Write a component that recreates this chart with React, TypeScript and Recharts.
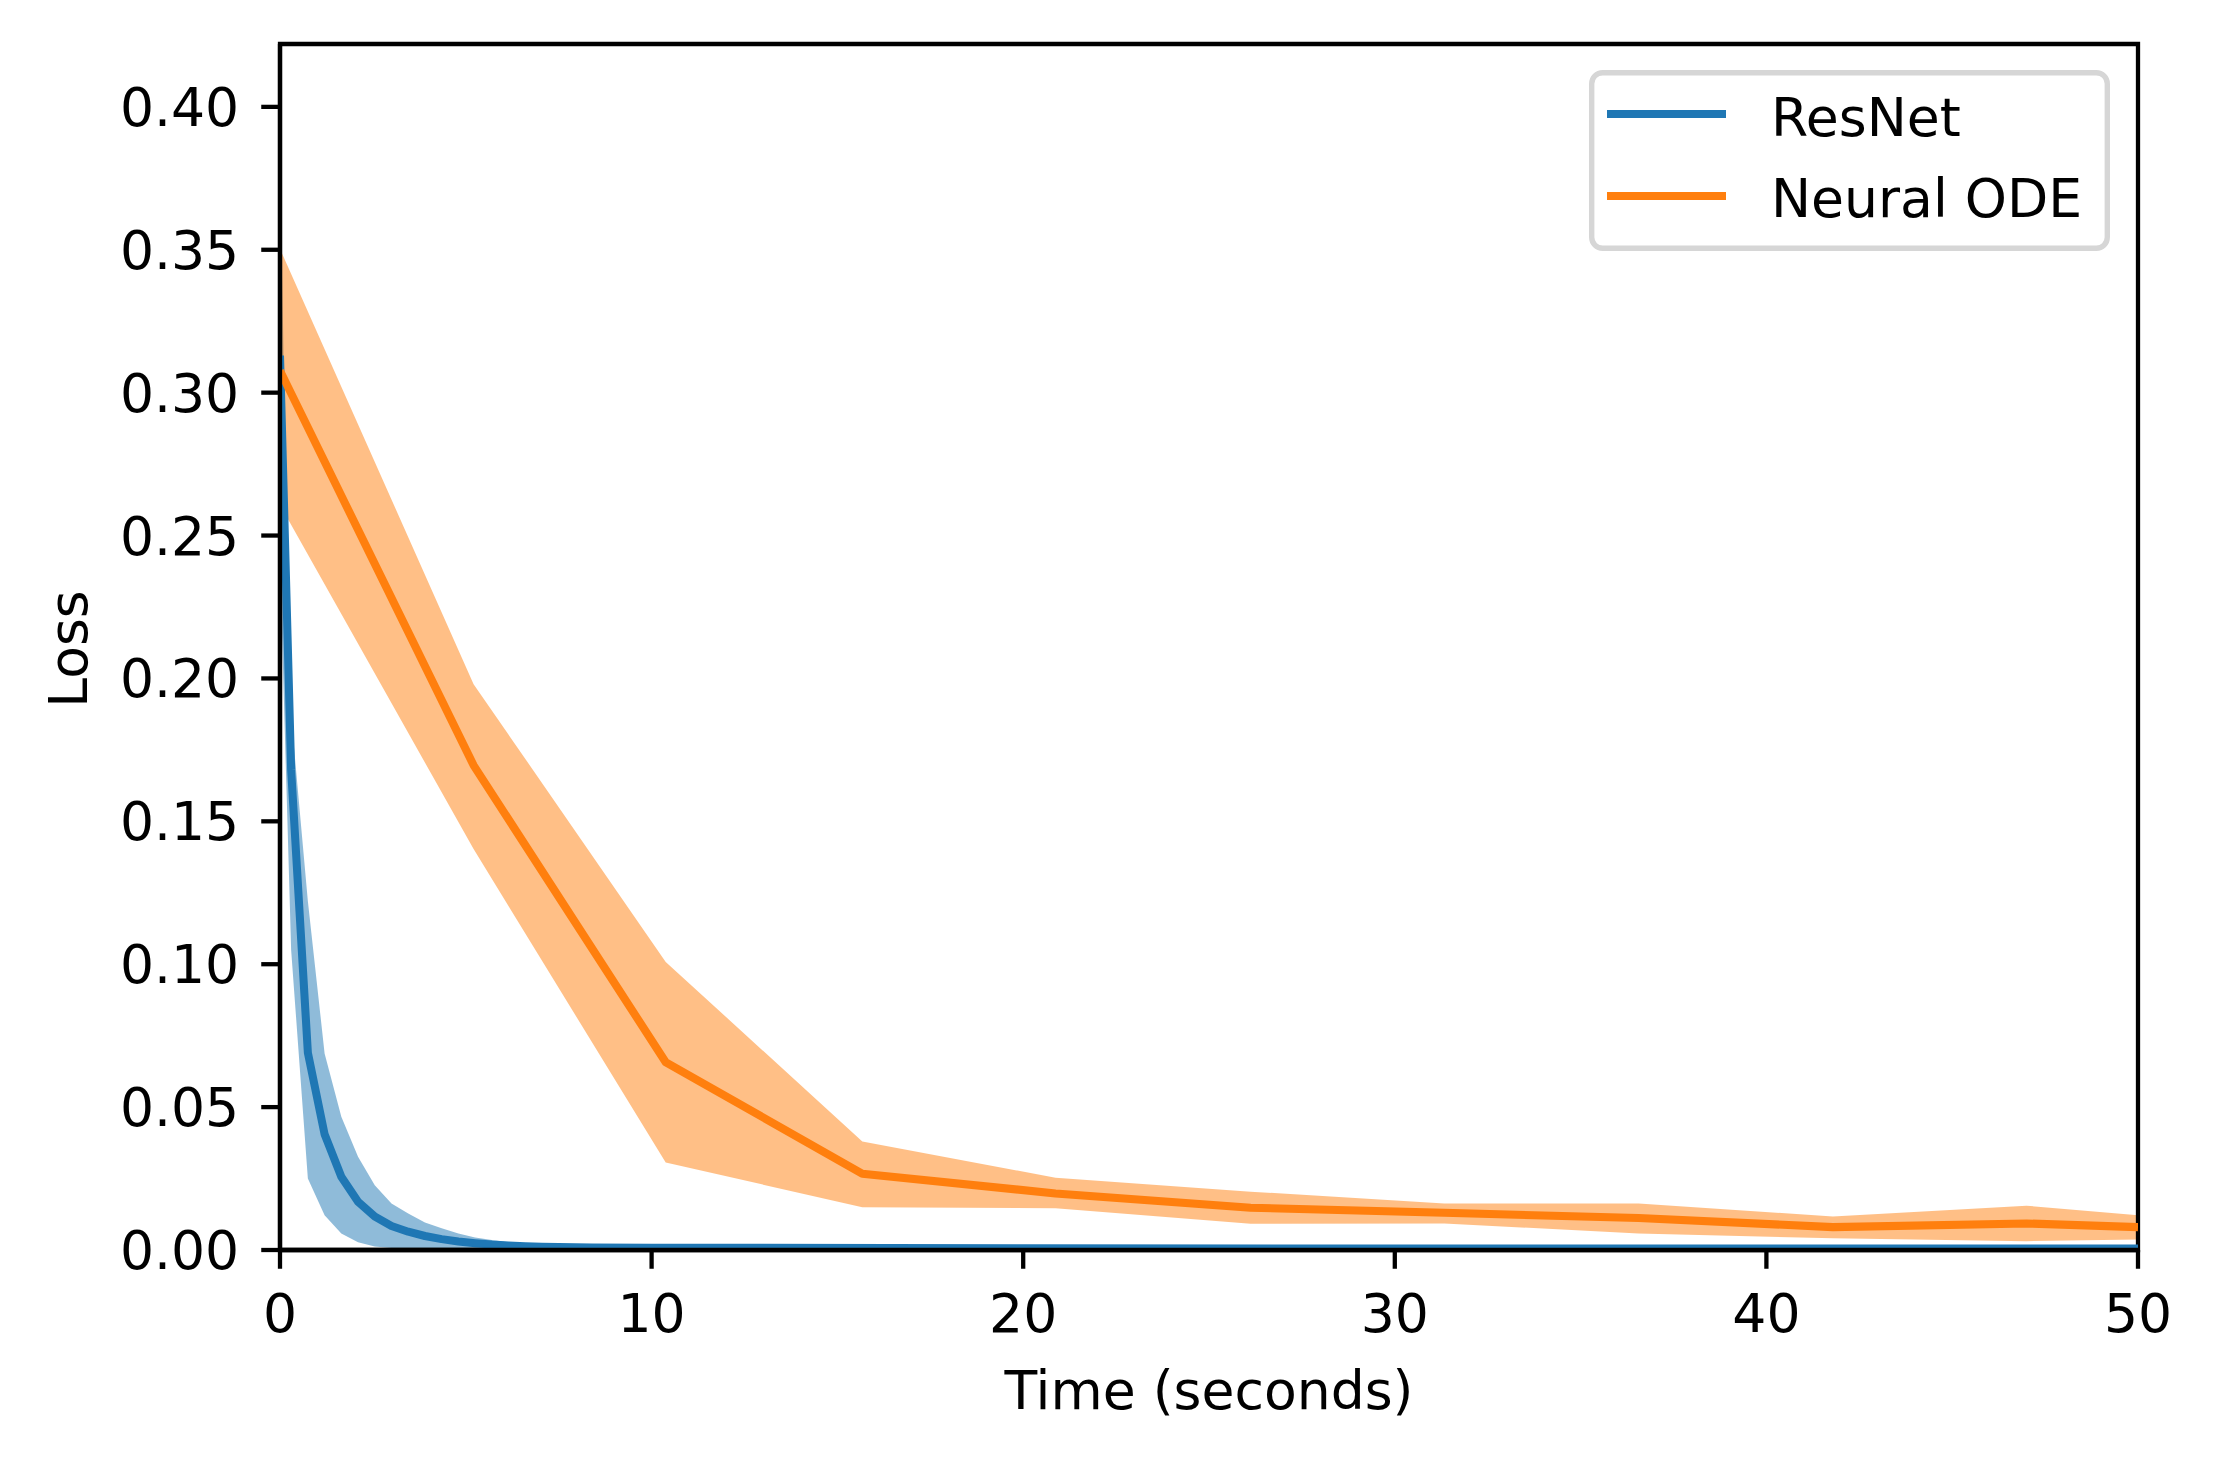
import React from 'react';
import { ComposedChart, Line, Area, XAxis, YAxis, ReferenceArea, Legend } from 'recharts';

// ResNet (blue) – time, mean loss, band lower, band upper
const resnetTime = [0, 0.3, 0.75, 1.2, 1.65, 2.1, 2.55, 3.0, 3.45, 3.9, 4.35, 4.8, 5.25, 5.7, 6.15, 6.6, 7.05, 7.5, 8.4, 10, 20, 35, 50];
const resnetMean = [0.313, 0.168, 0.069, 0.0405, 0.0256, 0.0169, 0.0117, 0.0084, 0.0064, 0.0049, 0.0038, 0.003, 0.0024, 0.0019, 0.0016, 0.0013, 0.0011, 0.001, 0.0009, 0.0008, 0.0006, 0.0005, 0.0005];
const resnetLower = [0.24, 0.105, 0.025, 0.0122, 0.0058, 0.0027, 0.0012, 0.0007, 0.0005, 0.0004, 0.0004, 0.0003, 0.0003, 0.0003, 0.0003, 0.0003, 0.0003, 0.0003, 0.0003, 0.0003, 0.0003, 0.0003, 0.0003];
const resnetUpper = [0.375, 0.187, 0.122, 0.0688, 0.0466, 0.0326, 0.0227, 0.0163, 0.0128, 0.0096, 0.0076, 0.0058, 0.0044, 0.0035, 0.0027, 0.0022, 0.0018, 0.0015, 0.0012, 0.001, 0.0008, 0.0007, 0.0007];

// Neural ODE (orange)
const odeTime = [0, 5.21, 10.38, 15.67, 20.87, 26.12, 31.33, 36.56, 41.79, 47.0, 50];
const odeMean = [0.3077, 0.1696, 0.0657, 0.0267, 0.0198, 0.0148, 0.013, 0.0112, 0.008, 0.0093, 0.008];
const odeLower = [0.2607, 0.1403, 0.0306, 0.015, 0.0146, 0.0092, 0.0093, 0.0058, 0.0041, 0.0031, 0.0037];
const odeUpper = [0.3503, 0.198, 0.1008, 0.038, 0.0253, 0.0204, 0.0163, 0.0163, 0.0117, 0.0155, 0.0122];

const xTicks = [0, 10, 20, 30, 40, 50];
const yTicks = [0, 0.05, 0.1, 0.15, 0.2, 0.25, 0.3, 0.35, 0.4];
const seriesNames = ['ResNet', 'Neural ODE'];
const seriesColors = ['#1f77b4', '#ff7f0e'];

const xDomain = [0, 50];
const yDomain = [0, 0.422];

const resnetData = resnetTime.map((t, i) => ({ t, mean: resnetMean[i], band: [resnetLower[i], resnetUpper[i]] }));
const odeData = odeTime.map((t, i) => ({ t, mean: odeMean[i], band: [odeLower[i], odeUpper[i]] }));

const FONT = "'DejaVu Sans', sans-serif";
const FS = 53.6;
const PT = 5.36;

const XLabel = (props: any) => {
  const vb = props.viewBox || { x: 280, y: 1250, width: 1858, height: 210 };
  return (
    <text x={vb.x + vb.width / 2} y={vb.y + 159} textAnchor="middle" fontFamily={FONT} fontSize={FS} fill="#000">
      Time (seconds)
    </text>
  );
};

const YLabel = (props: any) => {
  const vb = props.viewBox || { x: 0, y: 44, width: 280, height: 1206 };
  const cx = 87;
  const cy = vb.y + vb.height / 2 + 2;
  return (
    <text x={cx} y={cy} transform={`rotate(-90, ${cx}, ${cy})`} textAnchor="middle" fontFamily={FONT} fontSize={FS} fill="#000">
      Loss
    </text>
  );
};

const LegendBox = () => (
  <svg width={521} height={181} style={{ display: 'block' }}>
    <rect x={2.7} y={2.7} width={515.6} height={175.6} rx={11} ry={11} fill="#ffffff" fillOpacity={0.8} stroke="#d6d6d6" strokeWidth={PT} />
    {seriesNames.map((name, i) => (
      <g key={name}>
        <line x1={18} x2={137} y1={44 + i * 82} y2={44 + i * 82} stroke={seriesColors[i]} strokeWidth={1.5 * PT} />
        <text x={182} y={66 + i * 81} fontFamily={FONT} fontSize={FS} fill="#000">
          {name}
        </text>
      </g>
    ))}
  </svg>
);

export default function App() {
  return (
    <div style={{ position: 'absolute', left: 0, top: 0, width: 2214, height: 1460, background: '#ffffff' }}>
      <style>{`body{margin:0;background:#fff;}`}</style>
      <ComposedChart width={2214} height={1460} margin={{ top: 44, right: 76, bottom: 0, left: 0 }}>
        <Area
          data={resnetData}
          dataKey="band"
          type="linear"
          stroke="none"
          fill={seriesColors[0]}
          fillOpacity={0.5}
          isAnimationActive={false}
          legendType="none"
        />
        <Area
          data={odeData}
          dataKey="band"
          type="linear"
          stroke="none"
          fill={seriesColors[1]}
          fillOpacity={0.5}
          isAnimationActive={false}
          legendType="none"
        />
        <Line
          data={resnetData}
          dataKey="mean"
          name={seriesNames[0]}
          type="linear"
          stroke={seriesColors[0]}
          strokeWidth={1.5 * PT}
          strokeLinejoin="round"
          dot={false}
          activeDot={false}
          isAnimationActive={false}
        />
        <Line
          data={odeData}
          dataKey="mean"
          name={seriesNames[1]}
          type="linear"
          stroke={seriesColors[1]}
          strokeWidth={1.5 * PT}
          strokeLinejoin="round"
          dot={false}
          activeDot={false}
          isAnimationActive={false}
        />
        <XAxis
          dataKey="t"
          type="number"
          domain={xDomain}
          ticks={xTicks}
          allowDataOverflow
          height={210}
          stroke="#000"
          axisLine={{ stroke: '#000', strokeWidth: 0.8 * PT }}
          tickLine={{ stroke: '#000', strokeWidth: 0.8 * PT }}
          tickSize={3.5 * PT}
          tickMargin={25}
          tick={{ fontFamily: FONT, fontSize: FS, fill: '#000' }}
          label={<XLabel />}
        />
        <YAxis
          type="number"
          domain={yDomain}
          ticks={yTicks}
          allowDataOverflow
          width={280}
          stroke="#000"
          axisLine={{ stroke: '#000', strokeWidth: 0.8 * PT }}
          tickLine={{ stroke: '#000', strokeWidth: 0.8 * PT }}
          tickSize={3.5 * PT}
          tickMargin={22}
          tickFormatter={(v: number) => v.toFixed(2)}
          tick={{ fontFamily: FONT, fontSize: FS, fill: '#000' }}
          label={<YLabel />}
        />
        <ReferenceArea
          x1={xDomain[0]}
          x2={xDomain[1]}
          y1={yDomain[0]}
          y2={yDomain[1]}
          fill="none"
          fillOpacity={0}
          stroke="#000"
          strokeWidth={0.8 * PT}
          ifOverflow="visible"
        />
        <Legend
          layout="horizontal"
          verticalAlign="middle"
          align="center"
          content={() => <LegendBox />}
          wrapperStyle={{ position: 'absolute', left: 1589, top: 70, width: 521, height: 181, margin: 0, padding: 0 }}
        />
      </ComposedChart>
    </div>
  );
}
